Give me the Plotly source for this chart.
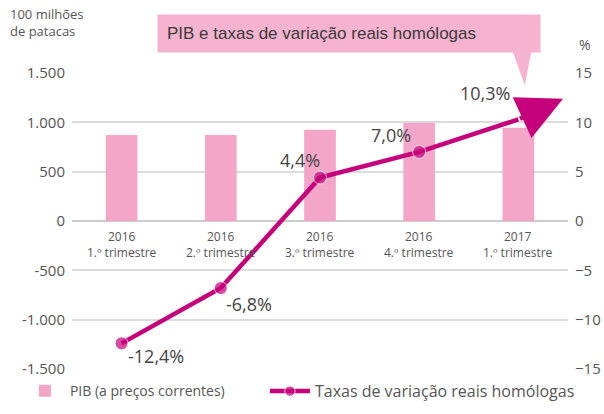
import plotly.graph_objects as go

# ---- data ----
years = ["2016", "2016", "2016", "2016", "2017"]
quarters = ["1.º trimestre", "2.º trimestre", "3.º trimestre", "4.º trimestre", "1.º trimestre"]
gdp = [872, 872, 925, 995, 945]          # 100 milhões de patacas
growth = [-12.4, -6.8, 4.4, 7.0, 10.3]   # %
left_ticks = [-1500, -1000, -500, 0, 500, 1000, 1500]
left_ticktext = ["-1.500", "-1.000", "-500", "0", "500", "1.000", "1.500"]
right_ticks = [-15, -10, -5, 0, 5, 10, 15]

# ---- styles ----
PINK = "#F4A6C8"
BOXPINK = "#F5B3CF"
MAGENTA = "#C5007A"
GRAY = "#555555"
GRID = "#DCDCDC"
FONT = "Open Sans, DejaVu Sans, sans-serif"

idx = list(range(len(years)))
label_xanchor = ["left", "left", "right", "right", "right"]
label_xshift = [4, 3, 2, -6, -6]
label_yshift = [-13, -16, 18, 17, 26]

fig = go.Figure()
fig.add_trace(go.Bar(
    x=idx, y=gdp, width=0.32, marker=dict(color=PINK, line=dict(width=0)),
    name="PIB (a preços correntes)", yaxis="y", legend="legend"))
fig.add_trace(go.Scatter(
    x=idx, y=growth, mode="lines+markers", yaxis="y2",
    line=dict(color=MAGENTA, width=4.5),
    marker=dict(color=MAGENTA, size=[13] * (len(idx) - 1) + [0]),
    name="Taxas de variação reais homólogas", legend="legend2"))

annotations = []
# category labels under the zero line
for i, (yr, q) in enumerate(zip(years, quarters)):
    annotations.append(dict(x=i, y=0, xref="x", yref="y", text=f"{yr}<br>{q}",
                            showarrow=False, yanchor="top", yshift=-5,
                            font=dict(family=FONT, size=12, color=GRAY)))
# value labels
for i, v in enumerate(growth):
    annotations.append(dict(x=i, y=v, xref="x", yref="y2",
                            text=f"{v:.1f}".replace(".", ",") + "%",
                            showarrow=False, xanchor=label_xanchor[i], yanchor="middle",
                            xshift=label_xshift[i], yshift=label_yshift[i],
                            font=dict(family=FONT, size=18, color="#444")))
# arrowhead continuing the last segment
ext = 0.45
tip_x = idx[-1] + ext
tip_y = growth[-1] + ext * (growth[-1] - growth[-2]) * 1.4
annotations.append(dict(x=tip_x, y=tip_y, xref="x", yref="y2",
                        ax=idx[-1], ay=growth[-1], axref="x", ayref="y2",
                        text="", showarrow=True, arrowhead=2, arrowsize=2.0,
                        arrowwidth=4.5, arrowcolor=MAGENTA, standoff=0))
# title box
annotations.append(dict(x=0.558, y=1.135, xref="paper", yref="paper",
                        xanchor="center", yanchor="middle",
                        text="PIB e taxas de variação reais homólogas",
                        showarrow=False, bgcolor=BOXPINK, borderpad=9,
                        font=dict(family="Liberation Sans, Arial, sans-serif", size=17, color="#3a3a3a"),
                        width=364, align="left"))
# axis unit labels
annotations.append(dict(x=-0.13, y=1.235, xref="paper", yref="paper",
                        text="100 milhões<br>de patacas", showarrow=False,
                        xanchor="left", yanchor="top", align="left",
                        font=dict(family=FONT, size=13, color=GRAY)))
annotations.append(dict(x=1.018, y=1.095, xref="paper", yref="paper",
                        text="%", showarrow=False, xanchor="left", yanchor="middle",
                        font=dict(family=FONT, size=14, color=GRAY)))

shapes = [dict(type="path", xref="paper", yref="paper",
               path="M 0.887 1.079 L 0.927 1.079 L 0.913 0.959 Z",
               fillcolor=BOXPINK, line=dict(width=0), layer="above")]

legend_style = dict(orientation="h", yanchor="middle", xanchor="left",
                    itemwidth=40, bgcolor="rgba(0,0,0,0)")

fig.update_layout(
    width=604, height=414,
    margin=dict(l=72, r=36, t=73, b=45, autoexpand=False),
    paper_bgcolor="white", plot_bgcolor="white",
    showlegend=True,
    legend=dict(x=-0.105, y=-0.075, font=dict(family=FONT, size=14, color=GRAY), **legend_style),
    legend2=dict(x=0.389, y=-0.075, font=dict(family=FONT, size=16, color=GRAY), **legend_style),
    xaxis=dict(range=[-0.5, 4.5], showticklabels=False, showgrid=False,
               zeroline=False, showline=False, ticks=""),
    yaxis=dict(range=[-1500, 1500], tickvals=left_ticks, ticktext=left_ticktext,
               tickfont=dict(family=FONT, size=15, color=GRAY),
               showgrid=True, gridcolor=GRID, gridwidth=1.5,
               zeroline=True, zerolinecolor="#CCCCCC", zerolinewidth=1.5,
               ticks="", ticklabelstandoff=6),
    yaxis2=dict(range=[-15, 15], tickvals=right_ticks, overlaying="y", side="right",
                tickfont=dict(family=FONT, size=15, color=GRAY),
                showgrid=False, zeroline=False, ticks="", ticklabelstandoff=6),
    annotations=annotations, shapes=shapes,
)

fig.write_html("out.html")
